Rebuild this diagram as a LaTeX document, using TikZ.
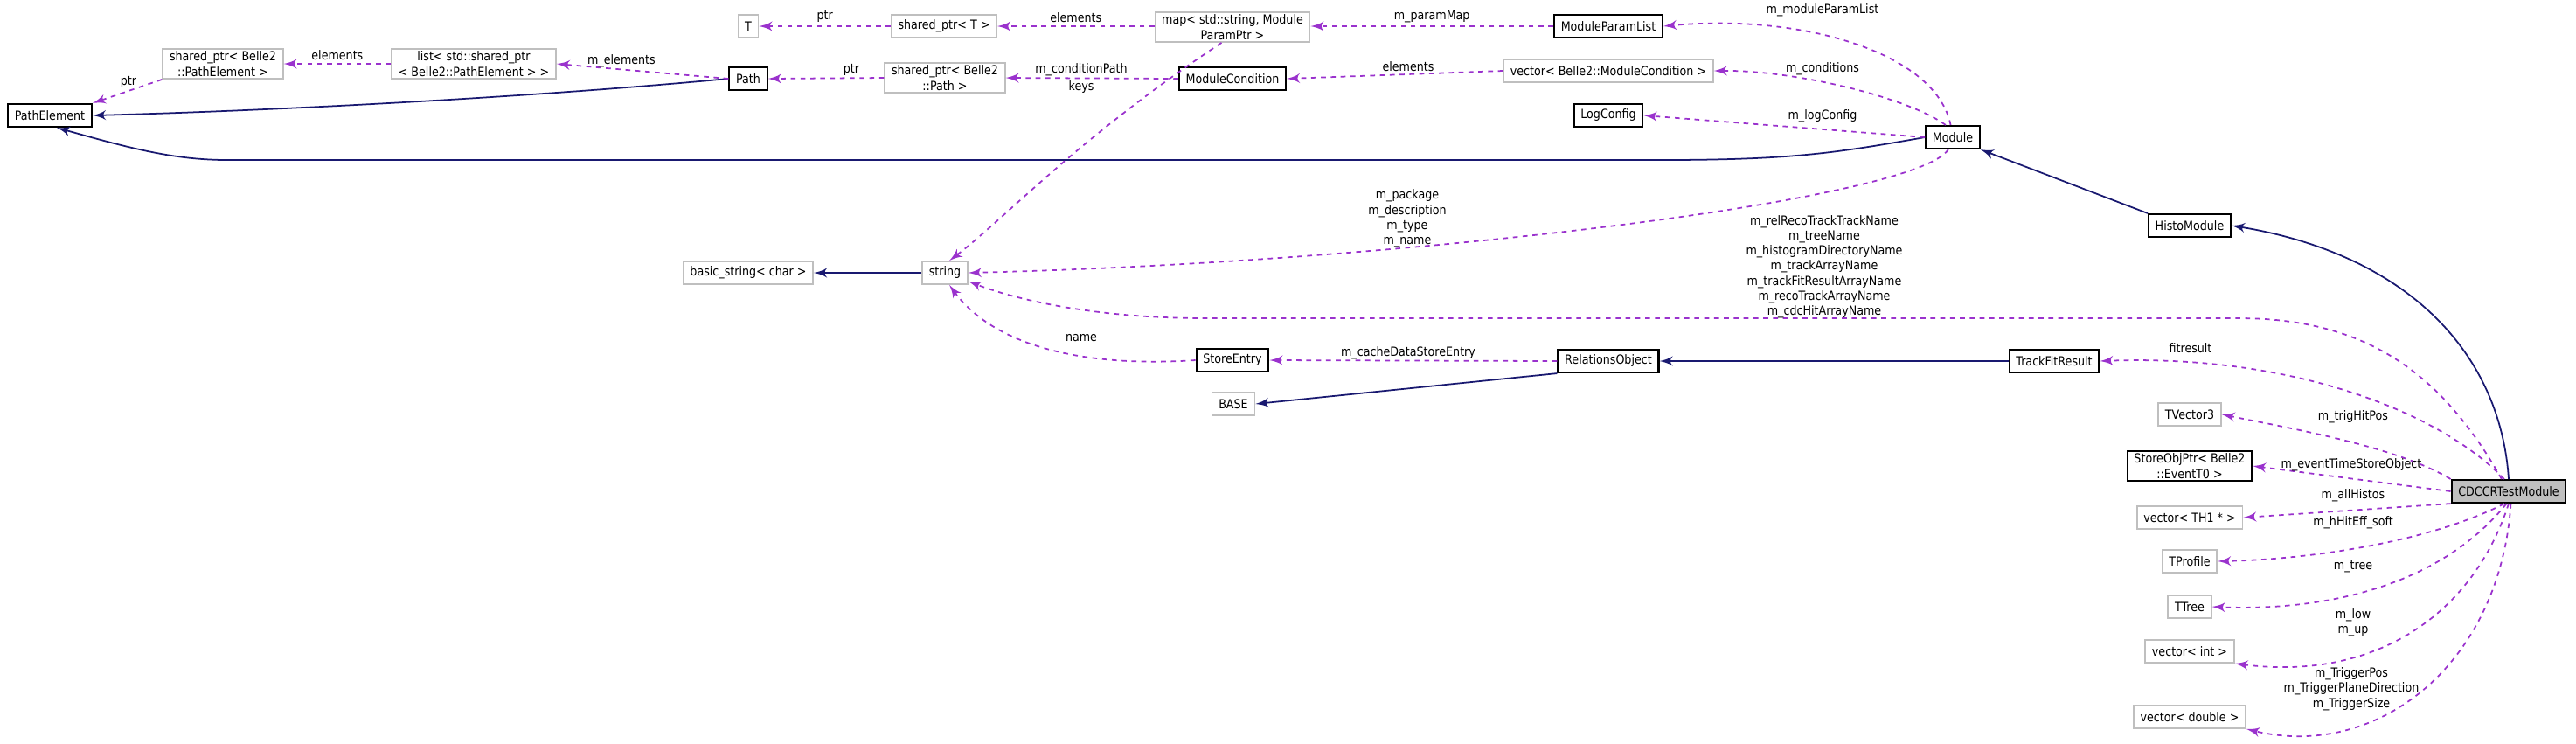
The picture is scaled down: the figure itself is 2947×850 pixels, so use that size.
\documentclass[tikz,border=0pt]{standalone}
\usepackage{fontspec}
\setmainfont{DejaVu Sans}[FakeStretch=0.88]
\usetikzlibrary{arrows}
\definecolor{refcol}{HTML}{9A32CD}
\definecolor{inhcol}{HTML}{191970}
\tikzstyle{klass} = [draw=black, fill=white, line width=0.6pt, align=center,
    inner xsep=2.2pt, inner ysep=0.8pt, minimum height=0.26cm, font=\fontsize{4.1}{4.9}\selectfont]
\tikzstyle{extklass} = [klass, draw=black!25, line width=0.5pt]
\tikzstyle{lbl} = [align=center, inner sep=0pt, font=\fontsize{4.1}{4.9}\selectfont]
\tikzset{
  usage/.style ={draw=refcol, line width=0.5pt, dash pattern=on 1.6pt off 1.6pt, -latex'},
  inherit/.style ={draw=inhcol, line width=0.5pt, -latex'}
}

\begin{document}
\begin{tikzpicture}[x=0.01cm,y=-0.01cm]
  \useasboundingbox (0,0) rectangle (2947,850);
  \node[klass] (pathelement) at (57,132) {PathElement};
  \node[extklass] (sharedptrpe) at (255,73) {shared\_ptr< Belle2\\::PathElement >};
  \node[extklass] (listpe) at (542,73) {list< std::shared\_ptr\\< Belle2::PathElement > >};
  \node[klass] (path) at (856,90) {Path};
  \node[extklass] (tparam) at (856,30) {T};
  \node[extklass] (basicstring) at (856,312) {basic\_string< char >};
  \node[extklass] (sharedptrt) at (1080,30) {shared\_ptr< T >};
  \node[extklass] (parammap) at (1410,31) {map< std::string, Module\\ParamPtr >};
  \node[klass] (moduleparamlist) at (1840,30) {ModuleParamList};
  \node[extklass] (sharedptrpath) at (1081,89) {shared\_ptr< Belle2\\::Path >};
  \node[klass] (modulecondition) at (1410,90) {ModuleCondition};
  \node[extklass] (vectormc) at (1840,81) {vector< Belle2::ModuleCondition >};
  \node[klass] (logconfig) at (1840,132) {LogConfig};
  \node[extklass] (string) at (1081,312) {string};
  \node[klass] (storeentry) at (1410,412) {StoreEntry};
  \node[klass] (relationsobject) at (1840,413) {RelationsObject};
  \node[extklass] (base) at (1411,462) {BASE};
  \node[klass] (module) at (2234,157) {Module};
  \node[klass] (histomodule) at (2505,258) {HistoModule};
  \node[klass] (trackfitresult) at (2350,413) {TrackFitResult};
  \node[extklass] (tvector3) at (2505,474) {TVector3};
  \node[klass] (storeobjptr) at (2505,533) {StoreObjPtr< Belle2\\::EventT0 >};
  \node[extklass] (vectorth1) at (2505,592) {vector< TH1 * >};
  \node[extklass] (tprofile) at (2505,642) {TProfile};
  \node[extklass] (ttree) at (2505,694) {TTree};
  \node[extklass] (vectorint) at (2505,745) {vector< int >};
  \node[extklass] (vectordouble) at (2505,820) {vector< double >};
  \node[klass, fill=black!25] (cdccr) at (2870,562) {CDCCRTestModule};

  \begin{scope}[every path/.style=inherit]
    \draw (path.west) .. controls (600,112) and (300,127) .. (pathelement.east);
    \draw (module.west) .. controls (2100,175) and (2050,183) .. (1900,183) -- (260,183)
      .. controls (200,183) and (150,170) .. (pathelement.-60);
    \draw (histomodule.north west) -- (module.south east);
    \draw (cdccr.north) .. controls (2860,400) and (2750,290) .. (histomodule.east);
    \draw (string.west) -- (basicstring.east);
    \draw (trackfitresult.west) -- (relationsobject.east);
    \draw (relationsobject.south west) -- (base.east);
  \end{scope}

  \begin{scope}[every path/.style=usage]
    \draw (sharedptrt.west) -- node[lbl, above=1pt] {ptr} (tparam.east);
    \draw (parammap.west |- sharedptrt.east) -- node[lbl, above=1pt] {elements} (sharedptrt.east);
    \draw (moduleparamlist.west) -- node[lbl, above=1pt] {m\_paramMap} (parammap.east |- moduleparamlist.west);
    \draw (module.100) .. controls (2215,60) and (2060,15) .. (moduleparamlist.east) node[lbl, at={(2085,12)}] {m\_moduleParamList};
    \draw (listpe.west) -- node[lbl, above=1pt] {elements} (sharedptrpe.east);
    \draw (sharedptrpe.south west) -- (pathelement.north east) node[lbl, at={(147,94)}] {ptr};
    \draw (path.west) -- (listpe.east) node[lbl, at={(711,70)}] {m\_elements};
    \draw (sharedptrpath.west) -- (path.east) node[lbl, at={(974,80)}] {ptr};
    \draw (modulecondition.west) -- (sharedptrpath.east) node[lbl, at={(1237,80)}] {m\_conditionPath};
    \draw (vectormc.west) -- (modulecondition.east) node[lbl, at={(1611,76)}] {elements};
    \draw (module.120) .. controls (2180,110) and (2050,80) .. (vectormc.east) node[lbl, at={(2085,79)}] {m\_conditions};
    \draw (module.west) -- (logconfig.east) node[lbl, at={(2085,133)}] {m\_logConfig};
    \draw (parammap.235) .. controls (1230,160) and (1150,250) .. (string.70) node[lbl, at={(1237,100)}] {keys};
    \draw (module.250) .. controls (2190,230) and (1600,300) .. (string.east)
      node[lbl, at={(1610,250)}] {m\_package\\m\_description\\m\_type\\m\_name};
    \draw (cdccr.120) .. controls (2790,420) and (2700,364) .. (2560,364) -- (1380,364)
      .. controls (1250,364) and (1160,342) .. (string.-20)
      node[lbl, at={(2087,305)}] {m\_relRecoTrackTrackName\\m\_treeName\\m\_histogramDirectoryName\\m\_trackArrayName\\m\_trackFitResultArrayName\\m\_recoTrackArrayName\\m\_cdcHitArrayName};
    \draw (storeentry.west) .. controls (1250,420) and (1140,400) .. (string.-70) node[lbl, at={(1237,387)}] {name};
    \draw (relationsobject.west) -- (storeentry.east) node[lbl, at={(1611,404)}] {m\_cacheDataStoreEntry};
    \draw (cdccr.110) .. controls (2790,470) and (2620,405) .. (trackfitresult.east) node[lbl, at={(2506,398)}] {fitresult};
    \draw (cdccr.north west) .. controls (2740,510) and (2620,490) .. (tvector3.east) node[lbl, at={(2692,477)}] {m\_trigHitPos};
    \draw (cdccr.west) -- (storeobjptr.east) node[lbl, at={(2690,532)}] {m\_eventTimeStoreObject};
    \draw (cdccr.south west) -- (vectorth1.east) node[lbl, at={(2692,567)}] {m\_allHistos};
    \draw (cdccr.-110) .. controls (2780,620) and (2640,640) .. (tprofile.east) node[lbl, at={(2692,598)}] {m\_hHitEff\_soft};
    \draw (cdccr.-100) .. controls (2800,660) and (2680,700) .. (ttree.east) node[lbl, at={(2692,648)}] {m\_tree};
    \draw (cdccr.-90) .. controls (2830,700) and (2720,780) .. (vectorint.south east) node[lbl, at={(2692,712)}] {m\_low\\m\_up};
    \draw (cdccr.-80) .. controls (2860,760) and (2720,870) .. (vectordouble.south east) node[lbl, at={(2690,788)}] {m\_TriggerPos\\m\_TriggerPlaneDirection\\m\_TriggerSize};
  \end{scope}
\end{tikzpicture}
\end{document}
